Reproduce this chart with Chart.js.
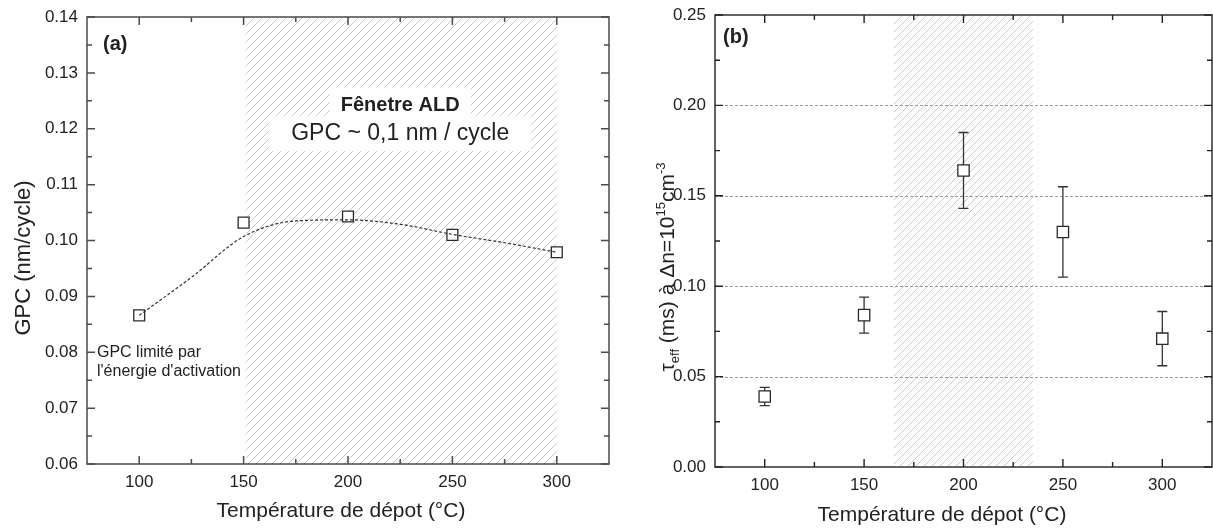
<!DOCTYPE html>
<html><head><meta charset="utf-8">
<script src="https://cdn.jsdelivr.net/npm/chart.js@4.4.0/dist/chart.umd.min.js"></script>
<style>
html,body{margin:0;padding:0;background:#fff;width:1213px;height:531px;overflow:hidden}
#ca{position:absolute;left:0;top:0}
#cb{position:absolute;left:630px;top:0}
</style></head><body>
<canvas id="ca" width="630" height="531"></canvas>
<canvas id="cb" width="583" height="531"></canvas>
<script>
// ---- data ----
const tempsA = [100, 150, 200, 250, 300];
const gpc = [0.0866, 0.1032, 0.1043, 0.1010, 0.0979];
const fitTemps = [100, 125, 150, 175, 200, 225, 250, 275, 300];
const fitGpc = [0.0866, 0.0934, 0.1007, 0.1035, 0.1037, 0.1029, 0.1011, 0.0996, 0.0979];
const tempsB = [100, 150, 200, 250, 300];
const tau = [0.039, 0.084, 0.164, 0.130, 0.071];
const tauLow = [0.034, 0.074, 0.143, 0.105, 0.056];
const tauHigh = [0.044, 0.094, 0.185, 0.155, 0.086];
const xTicks = [100, 150, 200, 250, 300];
const xMinor = [125, 175, 225, 275];
const yTicksA = [0.06, 0.07, 0.08, 0.09, 0.10, 0.11, 0.12, 0.13, 0.14];
const yMinorA = [0.065, 0.075, 0.085, 0.095, 0.105, 0.115, 0.125, 0.135];
const yTicksB = [0, 0.05, 0.10, 0.15, 0.20, 0.25];
const yMinorB = [0.025, 0.075, 0.125, 0.175, 0.225];
const gridB = [0.05, 0.10, 0.15, 0.20];
const windowA = [151, 300];
const windowB = [165, 235];
const xTitle = 'Température de dépot (°C)';
const yTitleA = 'GPC (nm/cycle)';
const noteA = ['GPC limité par', "l'énergie d'activation"];
const boxA = ['Fênetre ALD', 'GPC ~ 0,1 nm / cycle'];

const FONT = '"Liberation Sans", Arial, sans-serif';
const TXT = '#222';

function hatchPattern(ctx) {
  const c = document.createElement('canvas');
  c.width = 8; c.height = 8;
  const g = c.getContext('2d');
  g.strokeStyle = '#c8c8c8';
  g.lineWidth = 1;
  g.beginPath();
  g.moveTo(0, 8); g.lineTo(8, 0);
  g.moveTo(-2, 2); g.lineTo(2, -2);
  g.moveTo(6, 10); g.lineTo(10, 6);
  g.stroke();
  return ctx.createPattern(c, 'repeat');
}

function drawHatch(chart, win) {
  const {ctx, chartArea: a, scales: {x}} = chart;
  const x0 = x.getPixelForValue(win[0]), x1 = x.getPixelForValue(win[1]);
  ctx.save();
  ctx.fillStyle = hatchPattern(ctx);
  ctx.fillRect(x0, a.top, x1 - x0, a.bottom - a.top);
  ctx.restore();
}

function drawFrame(chart, color, lw, yMaj, yMin) {
  const {ctx, chartArea: a, scales: {x, y}} = chart;
  ctx.save();
  ctx.strokeStyle = color; ctx.lineWidth = lw;
  ctx.strokeRect(a.left, a.top, a.right - a.left, a.bottom - a.top);
  ctx.beginPath();
  const tx = (v, L) => { const p = x.getPixelForValue(v);
    ctx.moveTo(p, a.bottom); ctx.lineTo(p, a.bottom - L);
    ctx.moveTo(p, a.top); ctx.lineTo(p, a.top + L); };
  const ty = (v, L) => { const p = y.getPixelForValue(v);
    ctx.moveTo(a.left, p); ctx.lineTo(a.left + L, p);
    ctx.moveTo(a.right, p); ctx.lineTo(a.right - L, p); };
  xTicks.forEach(v => tx(v, 8)); xMinor.forEach(v => tx(v, 5));
  yMaj.forEach(v => ty(v, 8)); yMin.forEach(v => ty(v, 5));
  ctx.stroke();
  ctx.restore();
}

function baseScales(yMin, yMax, yTicks, yW, xH) {
  return {
    x: { type: 'linear', min: 75, max: 325,
      afterBuildTicks: s => { s.ticks = xTicks.map(v => ({value: v})); },
      afterFit: s => { s.height = xH; s.paddingLeft = 0; s.paddingRight = 0; },
      grid: {display: false, drawTicks: false}, border: {display: false},
      ticks: {padding: 8, color: TXT, font: {family: FONT, size: 17}, maxRotation: 0, autoSkip: false} },
    y: { type: 'linear', min: yMin, max: yMax,
      afterBuildTicks: s => { s.ticks = yTicks.map(v => ({value: v})); },
      afterFit: s => { s.width = yW; s.paddingTop = 0; s.paddingBottom = 0; },
      grid: {display: false, drawTicks: false}, border: {display: false},
      ticks: {padding: 9, color: TXT, font: {family: FONT, size: 17}, autoSkip: false,
        callback: v => Number(v).toFixed(2)} }
  };
}

const pluginA = {
  id: 'pa',
  beforeDatasetsDraw(chart) {
    const {ctx, scales: {x}} = chart;
    drawHatch(chart, windowA);
    const cx = x.getPixelForValue(225);
    ctx.save();
    ctx.font = 'bold 20px ' + FONT;
    const w1 = ctx.measureText(boxA[0]).width;
    ctx.font = '23px ' + FONT;
    const w2 = ctx.measureText(boxA[1]).width;
    ctx.fillStyle = '#fff';
    ctx.fillRect(cx - w1 / 2 - 11, 87, w1 + 22, 30);
    ctx.fillRect(cx - w2 / 2 - 22, 116, w2 + 44, 35);
    ctx.fillStyle = TXT; ctx.textAlign = 'center'; ctx.textBaseline = 'middle';
    ctx.font = 'bold 20px ' + FONT;
    ctx.fillText(boxA[0], cx, 105);
    ctx.font = '23px ' + FONT;
    ctx.fillText(boxA[1], cx, 134);
    ctx.restore();
  },
  afterDatasetsDraw(chart) {
    drawFrame(chart, '#4a4a4a', 1.5, yTicksA, yMinorA);
  },
  afterDraw(chart) {
    const {ctx} = chart;
    ctx.save();
    ctx.fillStyle = TXT;
    ctx.textBaseline = 'middle';
    ctx.font = 'bold 20px ' + FONT; ctx.textAlign = 'left';
    ctx.fillText('(a)', 103, 44);
    ctx.font = '16px ' + FONT;
    ctx.fillText(noteA[0], 97, 353);
    ctx.fillText(noteA[1], 97, 372);
    ctx.font = '21px ' + FONT; ctx.textAlign = 'center';
    ctx.fillText(xTitle, 341, 511);
    ctx.font = '22px ' + FONT;
    ctx.translate(30, 258); ctx.rotate(-Math.PI / 2);
    ctx.textBaseline = 'alphabetic';
    ctx.fillText(yTitleA, 0, 0);
    ctx.restore();
  }
};

const pluginB = {
  id: 'pb',
  beforeDatasetsDraw(chart) {
    const {ctx, chartArea: a, scales: {x, y}} = chart;
    drawHatch(chart, windowB);
    ctx.save();
    ctx.strokeStyle = '#9a9a9a'; ctx.lineWidth = 1; ctx.setLineDash([3, 2]);
    ctx.beginPath();
    gridB.forEach(v => { const p = Math.round(y.getPixelForValue(v)) + 0.5;
      ctx.moveTo(a.left, p); ctx.lineTo(a.right, p); });
    ctx.stroke();
    ctx.setLineDash([]);
    // error bars
    ctx.strokeStyle = '#333'; ctx.lineWidth = 1.3;
    ctx.beginPath();
    tempsB.forEach((t, i) => {
      const px = x.getPixelForValue(t);
      const pl = y.getPixelForValue(tauLow[i]), ph = y.getPixelForValue(tauHigh[i]);
      ctx.moveTo(px, pl); ctx.lineTo(px, ph);
      ctx.moveTo(px - 5, pl); ctx.lineTo(px + 5, pl);
      ctx.moveTo(px - 5, ph); ctx.lineTo(px + 5, ph);
    });
    ctx.stroke();
    ctx.restore();
  },
  afterDatasetsDraw(chart) {
    drawFrame(chart, '#222', 1.4, yTicksB, yMinorB);
  },
  afterDraw(chart) {
    const {ctx} = chart;
    ctx.save();
    ctx.fillStyle = TXT;
    ctx.textBaseline = 'middle';
    ctx.font = 'bold 20px ' + FONT; ctx.textAlign = 'left';
    ctx.fillText('(b)', 93, 37);
    ctx.font = '21px ' + FONT; ctx.textAlign = 'center';
    ctx.fillText(xTitle, 312, 515);
    // rotated y title with sub/superscripts
    const segs = [
      {t: 'τ', s: 21, dy: 0}, {t: 'eff', s: 13, dy: 5},
      {t: ' (ms) à Δn=10', s: 21, dy: 0}, {t: '15', s: 13, dy: -9},
      {t: 'cm', s: 21, dy: 0}, {t: '-3', s: 13, dy: -9}];
    let tot = 0;
    segs.forEach(g => { ctx.font = g.s + 'px ' + FONT; g.w = ctx.measureText(g.t).width; tot += g.w; });
    ctx.translate(44, 267); ctx.rotate(-Math.PI / 2);
    ctx.textAlign = 'left'; ctx.textBaseline = 'alphabetic';
    let xx = -tot / 2;
    segs.forEach(g => { ctx.font = g.s + 'px ' + FONT; ctx.fillText(g.t, xx, g.dy); xx += g.w; });
    ctx.restore();
  }
};

const ptStyle = {showLine: false, pointStyle: 'rect', backgroundColor: '#fff',
  borderColor: '#2a2a2a', borderWidth: 1.3, pointHoverRadius: 7.5};

new Chart(document.getElementById('ca'), {
  type: 'scatter',
  data: { datasets: [
    { type: 'line', data: fitTemps.map((t, i) => ({x: t, y: fitGpc[i]})),
      borderColor: '#333', borderWidth: 1.2, borderDash: [3, 2], pointRadius: 0,
      cubicInterpolationMode: 'monotone', fill: false },
    Object.assign({ data: tempsA.map((t, i) => ({x: t, y: gpc[i]})), pointRadius: 7.7 }, ptStyle)
  ]},
  options: {
    responsive: false, animation: false, devicePixelRatio: 1,
    layout: {autoPadding: false, padding: {left: 0, right: 21, top: 17, bottom: 0}},
    plugins: {legend: {display: false}, tooltip: {enabled: false}},
    scales: baseScales(0.06, 0.14, yTicksA, 87, 67)
  },
  plugins: [pluginA]
});

new Chart(document.getElementById('cb'), {
  type: 'scatter',
  data: { datasets: [
    Object.assign({ data: tempsB.map((t, i) => ({x: t, y: tau[i]})), pointRadius: 8 }, ptStyle)
  ]},
  options: {
    responsive: false, animation: false, devicePixelRatio: 1,
    layout: {autoPadding: false, padding: {left: 0, right: 1, top: 15, bottom: 0}},
    plugins: {legend: {display: false}, tooltip: {enabled: false}},
    scales: baseScales(0, 0.25, yTicksB, 85, 64)
  },
  plugins: [pluginB]
});
</script>
</body></html>
